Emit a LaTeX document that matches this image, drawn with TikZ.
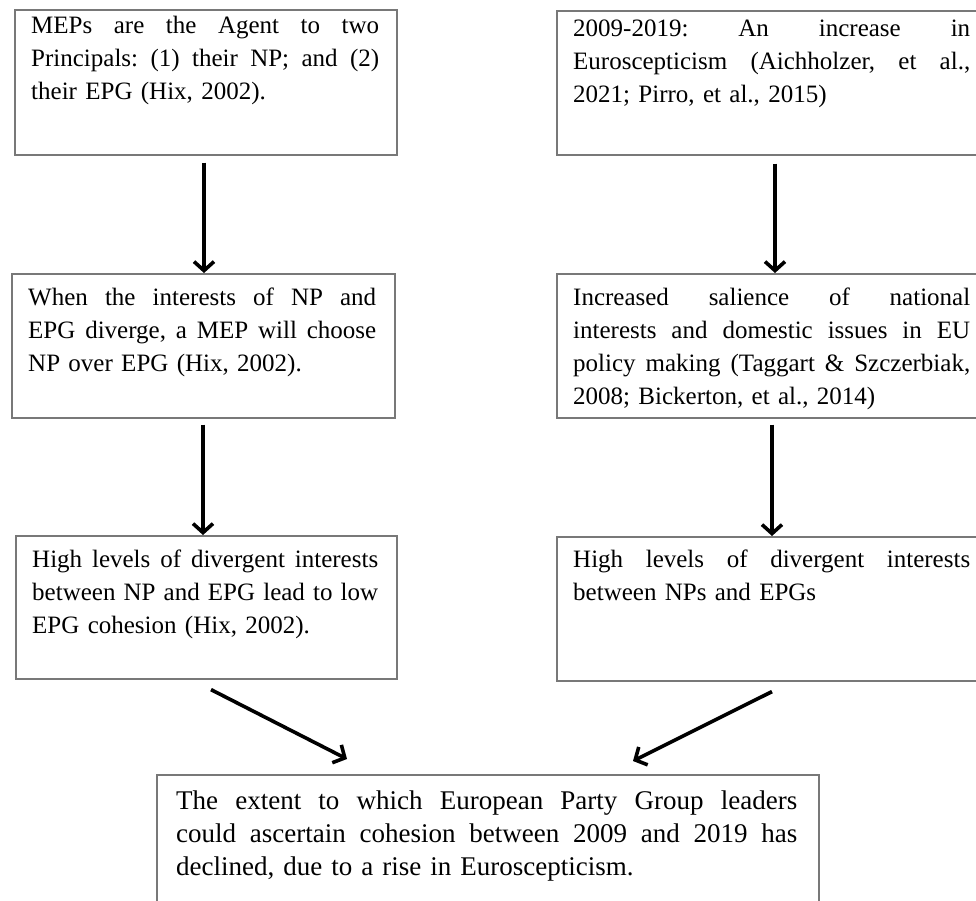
\documentclass[tikz,border=0pt]{standalone}
\usepackage{fontspec}
\setmainfont{Liberation Serif}
\usetikzlibrary{arrows.meta}
\definecolor{boxgray}{RGB}{120,120,120}
\newcommand\jline[2]{\leavevmode\hbox to #1{\frenchspacing\spaceskip=.25em plus 1fil minus .1em\relax\xspaceskip=\spaceskip #2}}
\begin{document}
\begin{tikzpicture}[x=1pt,y=-1pt,
  box/.style={draw=boxgray,line width=1.6pt,anchor=north west,inner sep=0pt},
  txt/.style={anchor=north west,inner sep=0pt,align=left,font=\fontsize{25}{33}\selectfont},
  arr/.style={line width=3.6pt,-{Straight Barb[length=9pt,width=20pt]}}]
\fill[white] (0,0) rectangle (976,900);
\useasboundingbox (0,0) rectangle (976,900);

% left column
\node[box,minimum width=382pt,minimum height=145pt] (b1) at (14,9) {};
\node[txt,text width=348pt] (t1) at ([shift={(17,1)}]b1.north west)
  {\strut\jline{348pt}{MEPs are the Agent to two}\\
   \jline{348pt}{Principals: (1) their NP; and (2)}\\
   their EPG (Hix, 2002).};

\node[box,minimum width=383pt,minimum height=144pt] (b2) at (11,273) {};
\node[txt,text width=348pt] (t2) at ([shift={(17,9)}]b2.north west)
  {\strut\jline{348pt}{When the interests of NP and}\\
   \jline{348pt}{EPG diverge, a MEP will choose}\\
   NP over EPG (Hix, 2002).};

\node[box,minimum width=381pt,minimum height=143pt] (b3) at (15,535) {};
\node[txt,text width=346pt] (t3) at ([shift={(17,9)}]b3.north west)
  {\strut\jline{346pt}{High levels of divergent interests}\\
   \jline{346pt}{between NP and EPG lead to low}\\
   EPG cohesion (Hix, 2002).};

% right column
\node[box,minimum width=431pt,minimum height=144pt] (r1) at (556,10) {};
\node[txt,text width=397pt] (s1) at ([shift={(17,3)}]r1.north west)
  {\strut\jline{397pt}{2009-2019: An increase in}\\
   \jline{397pt}{Euroscepticism (Aichholzer, et al.,}\\
   2021; Pirro, et al., 2015)};

\node[box,minimum width=431pt,minimum height=144pt] (r2) at (556,273) {};
\node[txt,text width=397pt] (s2) at ([shift={(17,9)}]r2.north west)
  {\strut\jline{397pt}{Increased salience of national}\\
   \jline{397pt}{interests and domestic issues in EU}\\
   \jline{397pt}{policy making (Taggart \& Szczerbiak,}\\
   2008; Bickerton, et al., 2014)};

\node[box,minimum width=431pt,minimum height=144pt] (r3) at (556,536) {};
\node[txt,text width=397pt] (s3) at ([shift={(17,8)}]r3.north west)
  {\strut\jline{397pt}{High levels of divergent interests}\\
   between NPs and EPGs};

% bottom box
\node[box,minimum width=662pt,minimum height=160pt] (bot) at (156,774) {};
\node[txt,text width=621pt,font=\fontsize{27}{33}\selectfont] (tb) at ([shift={(20,12)}]bot.north west)
  {\strut\jline{621pt}{The extent to which European Party Group leaders}\\
   \jline{621pt}{could ascertain cohesion between 2009 and 2019 has}\\
   declined, due to a rise in Euroscepticism.};

% arrows
\draw[arr] ([shift={(190,7)}]b1.south west) -- ([shift={(193,0)}]b2.north west);
\draw[arr] ([shift={(192,6)}]b2.south west) -- ([shift={(188,0)}]b3.north west);
\draw[arr] ([shift={(219,8)}]r1.south west) -- ([shift={(219,0)}]r2.north west);
\draw[arr] ([shift={(216,6)}]r2.south west) -- ([shift={(216,0)}]r3.north west);
\draw[arr] ([shift={(196,10)}]b3.south west) -- ([shift={(191,-15)}]bot.north west);
\draw[arr] ([shift={(216,10)}]r3.south west) -- ([shift={(477,-13)}]bot.north west);
\end{tikzpicture}
\end{document}
